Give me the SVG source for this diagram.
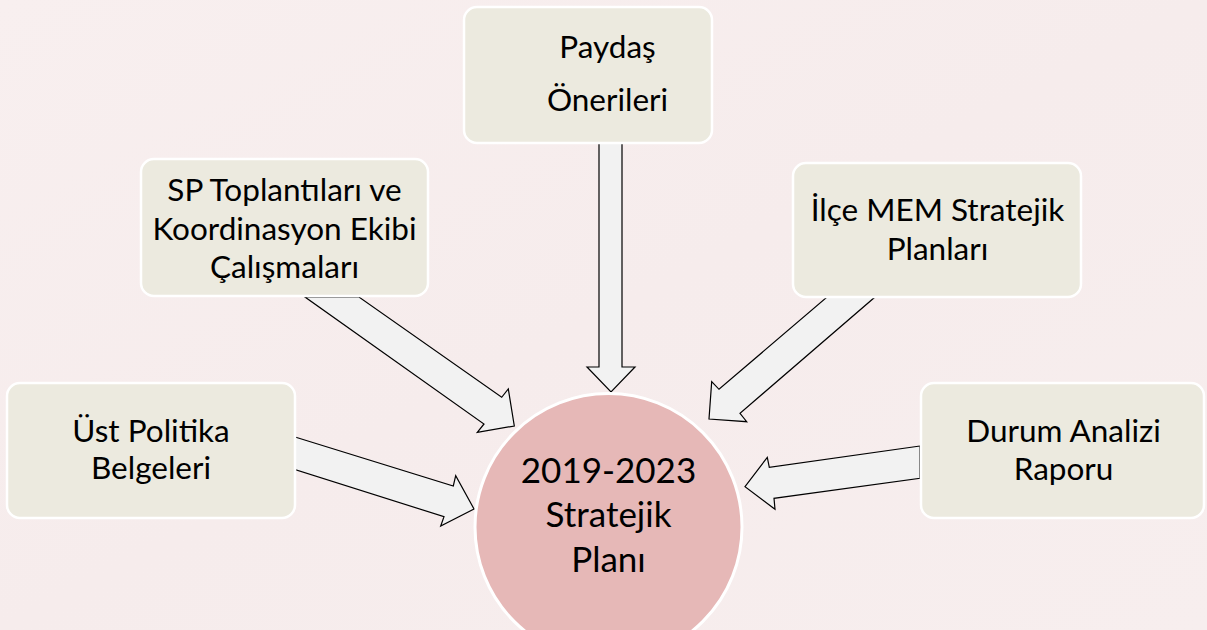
<svg xmlns="http://www.w3.org/2000/svg" width="1207" height="630" viewBox="0 0 1207 630">
  <defs>
    <linearGradient id="bg" x1="0" y1="0" x2="1" y2="1">
      <stop offset="0" stop-color="#F8EFEF"/>
      <stop offset="0.5" stop-color="#F6ECEC"/>
      <stop offset="1" stop-color="#F7EEEE"/>
    </linearGradient>
    <style>
      .box { fill: #ECEADF; stroke: #FFFFFF; stroke-width: 2.5; }
      .arrow { fill: #F2F2F2; stroke: #000000; stroke-width: 1.2; stroke-linejoin: miter; }
      .lbl { font-family: Lato, "Noto Sans", "DejaVu Sans", sans-serif; font-size: 31.5px; fill: #000000; text-anchor: middle; }
      .big { font-family: Lato, "Noto Sans", "DejaVu Sans", sans-serif; font-size: 35px; fill: #000000; text-anchor: middle; }
    </style>
  </defs>
  <rect x="0" y="0" width="1207" height="630" fill="url(#bg)"/>

  <g id="connectors">
    <polygon class="arrow" points="599,143 622,143 622,367 635,367 611,392 587,367 599,367"/>
    <polygon class="arrow" points="305,297 359,297 501.7,397.3 508.3,389 514.3,426 477.3,432.3 484,424"/>
    <polygon class="arrow" points="295,437 453.3,486 455.7,475.7 474,509 440.7,526 444,516.7 295,469.5"/>
    <polygon class="arrow" points="827,297 875,297 740,413.3 746.7,421.7 709,419 711.7,381.7 719,389.3"/>
    <polygon class="arrow" points="920,446 769.3,467.3 767.3,457.3 745,486.7 775,509.3 774,498.3 920,478.3"/>
  </g>

  <g id="node-paydas">
    <rect class="box" x="464" y="7" width="248" height="136" rx="13"/>
    <text class="lbl" x="607.5" y="58">Paydaş</text>
    <text class="lbl" x="607.5" y="110.5">Önerileri</text>
  </g>

  <g id="node-sp">
    <rect class="box" x="141" y="159" width="287" height="137" rx="13"/>
    <text class="lbl" x="284.5" y="201">SP Toplantıları ve</text>
    <text class="lbl" x="284.5" y="239.5">Koordinasyon Ekibi</text>
    <text class="lbl" x="284.5" y="277.5">Çalışmaları</text>
  </g>

  <g id="node-ilce">
    <rect class="box" x="793" y="163" width="288" height="134" rx="13"/>
    <text class="lbl" x="937.5" y="220.5">İlçe MEM Stratejik</text>
    <text class="lbl" x="937.5" y="260">Planları</text>
  </g>

  <g id="node-ust">
    <rect class="box" x="7" y="383" width="288" height="135" rx="13"/>
    <text class="lbl" x="151" y="441.5">Üst Politika</text>
    <text class="lbl" x="151" y="478.5">Belgeleri</text>
  </g>

  <g id="node-durum">
    <rect class="box" x="921" y="383" width="283" height="135" rx="13"/>
    <text class="lbl" x="1063.5" y="441.5">Durum Analizi</text>
    <text class="lbl" x="1063.5" y="480">Raporu</text>
  </g>

  <g id="node-plan">
    <circle cx="608.5" cy="527" r="133.5" fill="#E6B8B7" stroke="#FFFFFF" stroke-width="3"/>
    <text class="big" x="608.5" y="482.5">2019-2023</text>
    <text class="big" x="608.5" y="527">Stratejik</text>
    <text class="big" x="608.5" y="571.5">Planı</text>
  </g>
</svg>
